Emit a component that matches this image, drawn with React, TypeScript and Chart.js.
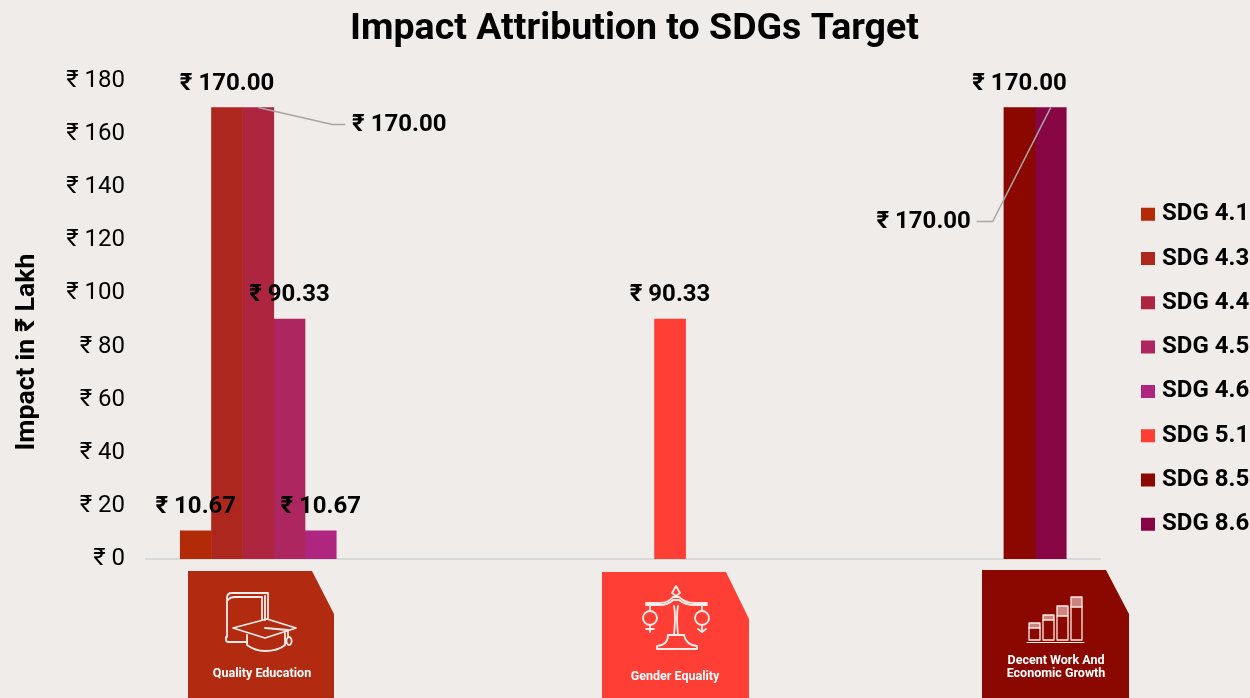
import React, { useEffect, useRef } from "react";
import { Chart, registerables } from "chart.js";

Chart.register(...registerables);

const FONT = "Roboto, 'Noto Sans', sans-serif";
const categories = ["Quality Education", "Gender Equality", "Decent Work And Economic Growth"];
const sdg41 = [10.67, null, null];
const sdg43 = [170, null, null];
const sdg44 = [170, null, null];
const sdg45 = [90.33, null, null];
const sdg46 = [10.67, null, null];
const sdg51 = [null, 90.33, null];
const sdg85 = [null, null, 170];
const sdg86 = [null, null, 170];
const seriesNames = ["SDG 4.1", "SDG 4.3", "SDG 4.4", "SDG 4.5", "SDG 4.6", "SDG 5.1", "SDG 8.5", "SDG 8.6"];
const seriesValues = [sdg41, sdg43, sdg44, sdg45, sdg46, sdg51, sdg85, sdg86];
const seriesColors = ["#B32A08", "#AE271E", "#AE2540", "#AE2660", "#AE2680", "#FF3F35", "#8B0800", "#870543"];
const yTicks = [0, 20, 40, 60, 80, 100, 120, 140, 160, 180];

const fmt = (v: number) => `₹ ${v.toFixed(2)}`;

const cardPlugin = {
  id: "cards",
  afterDraw(chart: any) {
    const c: CanvasRenderingContext2D = chart.ctx;
    c.save();
    const card = (l: number, t: number, r: number, cx: number, cy: number, color: string) => {
      c.fillStyle = color;
      c.beginPath();
      c.moveTo(l, t); c.lineTo(cx, t); c.lineTo(r, cy); c.lineTo(r, 698); c.lineTo(l, 698);
      c.closePath(); c.fill();
    };
    const strokes = (paths: string[], w = 1.8) => {
      c.strokeStyle = "#FBEDE9"; c.lineWidth = w; c.lineJoin = "round"; c.lineCap = "round";
      paths.forEach((p) => c.stroke(new Path2D(p)));
    };
    card(188, 571, 334, 312, 614, "#B22A10");
    card(602, 572, 749, 726, 619, "#FF3F35");
    card(982, 570, 1129, 1106, 614, "#8B0800");

    strokes([
      "M227 637 V598 Q227 593 232 593 H268 V618",
      "M265 596 V620", "M262 598 V620",
      "M228 600 Q230 597 235 597 H262",
      "M226 637 V640 Q226 642 229 642 H247",
      "M233 628 L267 619 L296 628 L265 638 Z",
      "M247 635 V645 Q255 651 265 651 Q278 651 285 645 V633",
      "M265 628 L288 630 V636",
      "M289 637 a2.6 4 0 1 0 0.1 0",
    ]);
    strokes([
      "M676 586 L680 593 L676 596 L672 593 Z",
      "M646 603 H660 Q668 603 673 597 H679 Q685 603 695 603 H707",
      "M646 605 H660 Q668 605 673 600 H679 Q685 605 695 605 H707",
      "M674 606 Q676 615 674 635", "M678 606 Q676 615 678 635",
      "M668 635 H684", "M668 635 Q668 645 657 646 V649 H697 V646 Q686 645 684 635",
      "M650 606 V611", "M702 606 V611",
      "M657 618 a7 7 0 1 0 -14 0 a7 7 0 1 0 14 0",
      "M709 618 a7 7 0 1 0 -14 0 a7 7 0 1 0 14 0",
      "M650 625 V632", "M646 629 H654",
      "M702 625 V632", "M698 629 L702 632 L706 629",
    ]);
    [[1029, 623, 628], [1043, 615, 620], [1057, 606, 616], [1071, 597, 607]].forEach(([x, t, h]) => {
      c.fillStyle = "rgba(250,215,210,0.6)";
      c.fillRect(x, t, 11, h - t);
      strokes([`M${x} ${t} H${x + 11} V640 H${x} Z`, `M${x} ${h} H${x + 11}`], 1.3);
    });
    strokes(["M1027 642.5 H1084"], 1.2);

    c.fillStyle = "#FFFFFF";
    c.font = `bold 12.5px ${FONT}`;
    c.textAlign = "center";
    c.textBaseline = "middle";
    c.fillText(categories[0], 262, 674);
    c.fillText(categories[1], 675, 677);
    c.fillText("Decent Work And", 1056, 661);
    c.fillText("Economic Growth", 1056, 674);
    c.restore();
  },
};

const labelPlugin = {
  id: "valueLabels",
  afterDatasetsDraw(chart: any) {
    const c: CanvasRenderingContext2D = chart.ctx;
    const offsets: Record<number, [number, number]> = { 2: [141, 17], 7: [-127, 114] };
    c.save();
    c.font = `bold 24px ${FONT}`;
    c.textAlign = "center";
    c.textBaseline = "middle";
    chart.data.datasets.forEach((ds: any, i: number) => {
      ds.data.forEach((v: number | null, j: number) => {
        if (v == null) return;
        const el = chart.getDatasetMeta(i).data[j];
        const off = offsets[i];
        if (off) {
          const tx = el.x + off[0], ty = el.y + off[1];
          c.strokeStyle = "#A6A6A6";
          c.lineWidth = 1.5;
          c.beginPath();
          if (i === 2) {
            c.moveTo(el.x, el.y); c.lineTo(tx - 67, ty); c.lineTo(tx - 54, ty);
          } else {
            c.moveTo(el.x, el.y); c.lineTo(tx + 69, ty); c.lineTo(tx + 53, ty);
          }
          c.stroke();
          c.fillStyle = "#000";
          c.fillText(fmt(v), tx, ty);
        } else {
          c.fillStyle = "#000";
          c.fillText(fmt(v), el.x, el.y - 24);
        }
      });
    });
    // y-axis title
    c.translate(27, 352);
    c.rotate(-Math.PI / 2);
    c.font = `bold 26.7px ${FONT}`;
    c.fillStyle = "#000";
    c.fillText("Impact in ₹ Lakh", 0, 0);
    c.restore();
  },
};

const placePlugin = {
  id: "place",
  afterLayout(chart: any) {
    const t = chart.titleBlock;
    if (t) { t.left += 17; t.right += 17; }
    const l = chart.legend;
    if (l) {
      const dx = 1146 - (l.left + 20.3);
      l.left += dx; l.right += dx;
      l.top += 82; l.bottom += 82;
    }
  },
};

export default function App() {
  const ref = useRef<HTMLCanvasElement>(null);
  useEffect(() => {
    document.body.style.margin = "0";
    document.body.style.background = "#EFECE9";
    const chart = new Chart(ref.current!, {
      type: "bar",
      data: {
        labels: categories,
        datasets: seriesNames.map((n, i) => ({
          label: n,
          data: seriesValues[i],
          backgroundColor: seriesColors[i],
          categoryPercentage: 0.785,
          barPercentage: 1,
          inflateAmount: 0.25,
        })),
      } as any,
      options: {
        animation: false,
        responsive: false,
        layout: { padding: { bottom: 131, top: 7.5, left: 1, right: 16 } },
        plugins: {
          title: {
            display: true,
            text: "Impact Attribution to SDGs Target",
            color: "#000",
            font: { family: FONT, size: 37.5, weight: "bold" },
            padding: { top: 0, bottom: 28.5 },
          },
          legend: {
            position: "right",
            maxWidth: 149,
            labels: {
              font: { family: FONT, size: 24, weight: "bold" },
              color: "#000",
              boxWidth: 4,
              boxHeight: 3,
              padding: 20.3,
              generateLabels: (ch: any) =>
                ch.data.datasets.map((d: any, i: number) => ({
                  text: d.label,
                  fillStyle: d.backgroundColor,
                  strokeStyle: d.backgroundColor,
                  lineWidth: 10,
                  datasetIndex: i,
                  fontColor: "#000",
                })),
            },
          },
          tooltip: { enabled: false },
        },
        scales: {
          x: {
            grid: { display: false },
            border: { color: "#D9D9D9", width: 2 },
            ticks: { display: false },
          },
          y: {
            min: 0,
            max: 180,
            afterFit: (s: any) => { s.width = 145; },
            afterBuildTicks: (s: any) => { s.ticks = yTicks.map((value) => ({ value })); },
            grid: { display: false, drawTicks: false },
            border: { display: false },
            ticks: {
              padding: 21,
              color: "#000",
              font: { family: FONT, size: 24 },
              callback: (v: any) => `₹ ${v}`,
            },
          },
        },
      } as any,
      plugins: [placePlugin, labelPlugin, cardPlugin],
    });
    return () => chart.destroy();
  }, []);
  return (
    <div style={{ position: "fixed", left: 0, top: 0, width: 1250, height: 698, background: "#EFECE9", overflow: "hidden" }}>
      <canvas ref={ref} width={1250} height={698} style={{ display: "block" }} />
    </div>
  );
}
